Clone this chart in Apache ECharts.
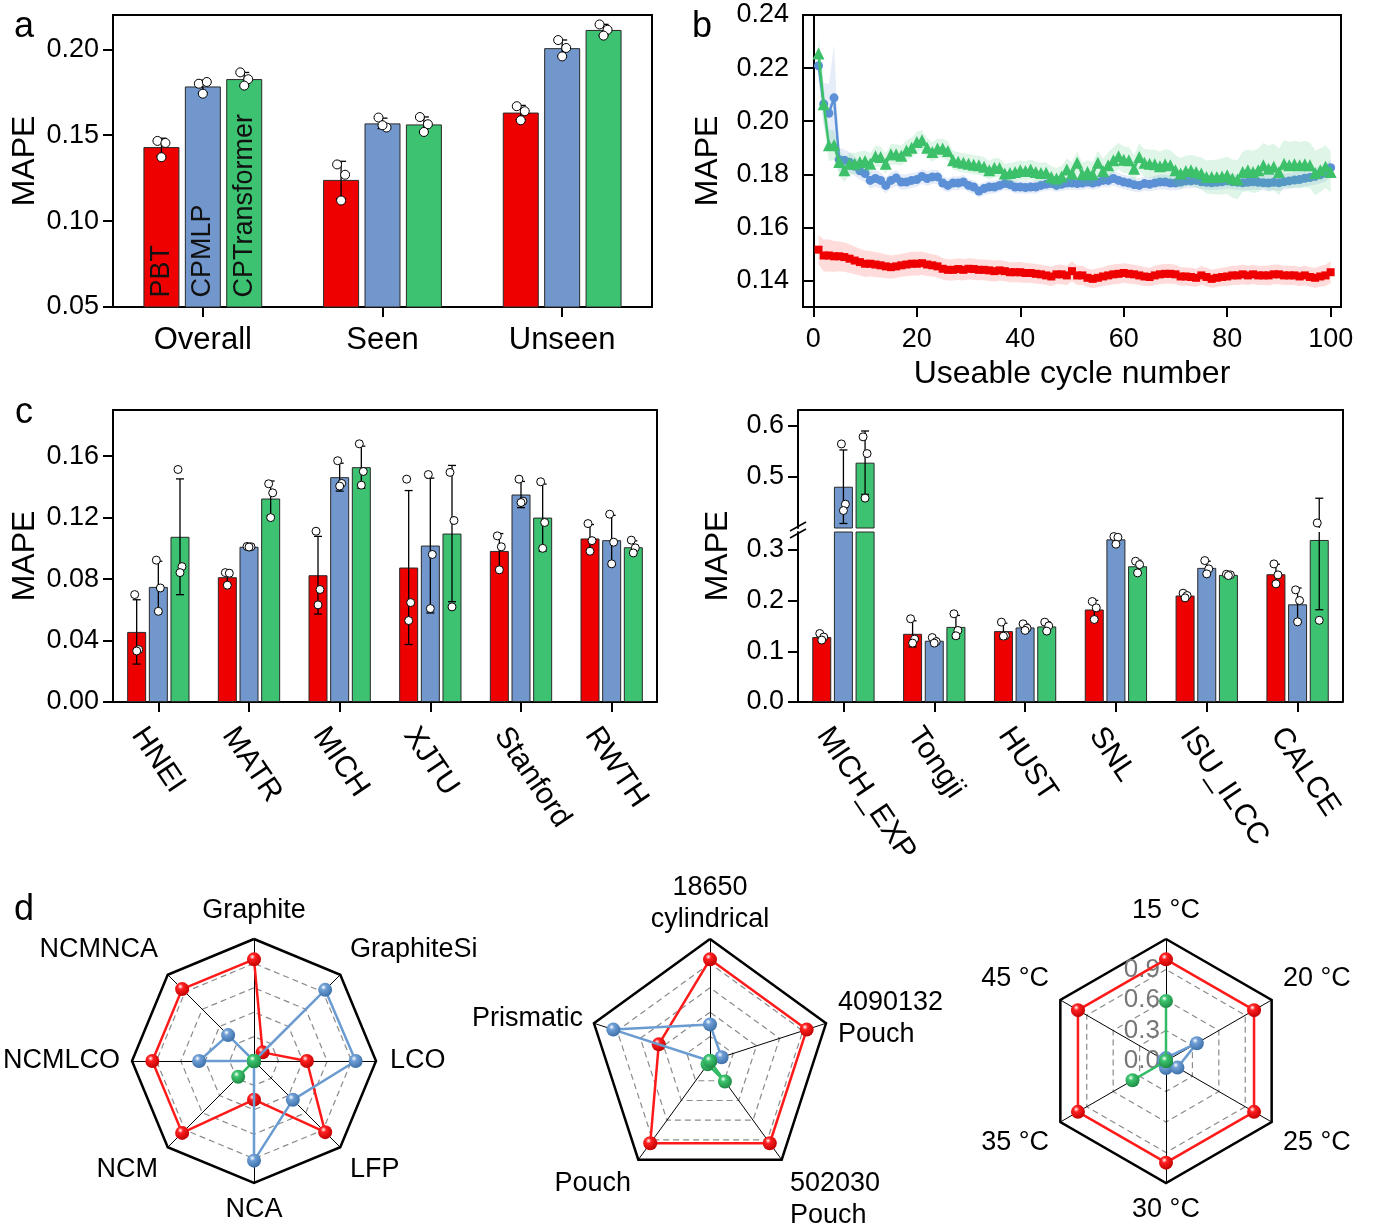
<!DOCTYPE html>
<html><head><meta charset="utf-8">
<script src="https://cdn.jsdelivr.net/npm/echarts@6.0.0/dist/echarts.min.js"></script>
<style>html,body{margin:0;padding:0;background:#fff}#c{width:1373px;height:1229px}</style>
</head><body><div id="c"></div>
<script>
const FONT = '"Liberation Sans", Arial, Helvetica, sans-serif';
// ---------- Panel a ----------
const A_CATS = ['Overall', 'Seen', 'Unseen'];
const MODEL_NAMES = ['PBT', 'CPMLP', 'CPTransformer'];
const A_PBT = [0.1431, 0.1240, 0.1632];
const A_CPMLP = [0.1784, 0.1569, 0.2007];
const A_CPT = [0.1827, 0.1563, 0.2113];
const A_PBT_PTS = [[0.1467,0.1455,0.1372],[0.1330,0.1270,0.1120],[0.1669,0.1640,0.1587]];
const A_CPMLP_PTS = [[0.1800,0.1810,0.1742],[0.1603,0.1545,0.1558],[0.2054,0.2008,0.1959]];
const A_CPT_PTS = [[0.1866,0.1826,0.1789],[0.1606,0.1564,0.1519],[0.2145,0.2114,0.2080]];
const A_TICKS = [0.05, 0.10, 0.15, 0.20];
// ---------- Panel b ----------
const B_PBT = [0.1516,0.1494,0.1494,0.1491,0.1491,0.1488,0.1482,0.1475,0.1469,0.1463,
0.1463,0.1460,0.1457,0.1453,0.1450,0.1453,0.1457,0.1460,0.1463,0.1463,
0.1465,0.1460,0.1457,0.1453,0.1444,0.1440,0.1440,0.1443,0.1440,0.1444,
0.1443,0.1440,0.1440,0.1438,0.1435,0.1438,0.1435,0.1431,0.1431,0.1431,
0.1428,0.1428,0.1425,0.1423,0.1419,0.1415,0.1423,0.1423,0.1419,0.1435,
0.1419,0.1419,0.1410,0.1406,0.1410,0.1415,0.1419,0.1423,0.1425,0.1428,
0.1425,0.1423,0.1419,0.1415,0.1413,0.1419,0.1423,0.1425,0.1425,0.1423,
0.1415,0.1415,0.1413,0.1410,0.1419,0.1413,0.1406,0.1410,0.1413,0.1415,
0.1419,0.1419,0.1423,0.1419,0.1423,0.1419,0.1419,0.1419,0.1423,0.1423,
0.1419,0.1419,0.1419,0.1415,0.1419,0.1413,0.1410,0.1415,0.1419,0.1431];
const B_CPMLP = [0.2209,0.2065,0.2030,0.2088,0.1855,0.1853,0.1845,0.1830,0.1813,0.1803,
0.1777,0.1784,0.1777,0.1758,0.1777,0.1786,0.1771,0.1771,0.1777,0.1780,
0.1792,0.1784,0.1790,0.1790,0.1767,0.1758,0.1767,0.1767,0.1771,0.1758,
0.1752,0.1737,0.1746,0.1752,0.1752,0.1758,0.1765,0.1761,0.1752,0.1752,
0.1750,0.1752,0.1752,0.1758,0.1762,0.1765,0.1758,0.1762,0.1767,0.1767,
0.1765,0.1767,0.1771,0.1767,0.1771,0.1777,0.1777,0.1784,0.1777,0.1771,
0.1767,0.1761,0.1758,0.1765,0.1762,0.1767,0.1771,0.1771,0.1767,0.1767,
0.1771,0.1775,0.1775,0.1777,0.1772,0.1770,0.1768,0.1770,0.1772,0.1775,
0.1772,0.1770,0.1768,0.1770,0.1772,0.1770,0.1768,0.1767,0.1770,0.1768,
0.1772,0.1775,0.1778,0.1780,0.1785,0.1788,0.1792,0.1798,0.1805,0.1825];
const B_CPT = [0.2255,0.2064,0.1909,0.1910,0.1846,0.1815,0.1840,0.1840,0.1846,0.1850,
0.1840,0.1868,0.1865,0.1840,0.1875,0.1875,0.1870,0.1890,0.1900,0.1922,
0.1928,0.1900,0.1884,0.1897,0.1897,0.1888,0.1853,0.1847,0.1843,0.1840,
0.1836,0.1834,0.1828,0.1815,0.1825,0.1824,0.1803,0.1805,0.1809,0.1815,
0.1812,0.1818,0.1809,0.1805,0.1806,0.1790,0.1784,0.1792,0.1818,0.1803,
0.1843,0.1800,0.1809,0.1800,0.1843,0.1812,0.1834,0.1853,0.1868,0.1855,
0.1853,0.1821,0.1865,0.1843,0.1840,0.1838,0.1830,0.1838,0.1834,0.1815,
0.1803,0.1812,0.1815,0.1809,0.1803,0.1790,0.1790,0.1790,0.1792,0.1796,
0.1784,0.1780,0.1809,0.1815,0.1809,0.1815,0.1834,0.1821,0.1828,0.1809,
0.1840,0.1834,0.1838,0.1834,0.1838,0.1834,0.1805,0.1815,0.1828,0.1809];
const B_PBT_SD = [0.0055,0.0060,0.0060,0.0058,0.0056,0.0055,0.0054,0.0052,0.0050,0.0050,
0.0048,0.0047,0.0046,0.0045,0.0044,0.0044,0.0043,0.0044,0.0045,0.0045,
0.0044,0.0043,0.0042,0.0042,0.0041,0.0040,0.0040,0.0041,0.0040,0.0040,
0.0040,0.0039,0.0039,0.0040,0.0040,0.0039,0.0038,0.0038,0.0038,0.0039,
0.0038,0.0037,0.0037,0.0036,0.0036,0.0037,0.0036,0.0037,0.0036,0.0038,
0.0036,0.0036,0.0035,0.0035,0.0036,0.0036,0.0037,0.0037,0.0038,0.0037,
0.0037,0.0036,0.0036,0.0036,0.0035,0.0036,0.0037,0.0037,0.0037,0.0036,
0.0035,0.0035,0.0035,0.0034,0.0035,0.0035,0.0034,0.0034,0.0035,0.0036,
0.0036,0.0036,0.0037,0.0036,0.0036,0.0036,0.0036,0.0037,0.0037,0.0037,
0.0036,0.0036,0.0036,0.0036,0.0037,0.0037,0.0038,0.0039,0.0040,0.0042];
const B_CPMLP_SD = [0.0060,0.0080,0.0110,0.0200,0.0045,0.0040,0.0038,0.0036,0.0034,0.0033,
0.0032,0.0032,0.0031,0.0030,0.0030,0.0030,0.0029,0.0029,0.0029,0.0028,
0.0028,0.0028,0.0027,0.0027,0.0027,0.0026,0.0026,0.0026,0.0026,0.0025,
0.0025,0.0025,0.0025,0.0025,0.0024,0.0024,0.0024,0.0024,0.0024,0.0024,
0.0024,0.0024,0.0024,0.0024,0.0024,0.0025,0.0025,0.0025,0.0025,0.0025,
0.0025,0.0025,0.0025,0.0026,0.0026,0.0026,0.0026,0.0027,0.0027,0.0027,
0.0027,0.0027,0.0027,0.0027,0.0027,0.0027,0.0028,0.0028,0.0028,0.0028,
0.0028,0.0028,0.0028,0.0028,0.0028,0.0028,0.0028,0.0028,0.0029,0.0029,
0.0029,0.0029,0.0029,0.0029,0.0029,0.0029,0.0029,0.0030,0.0030,0.0030,
0.0030,0.0030,0.0030,0.0030,0.0031,0.0031,0.0031,0.0032,0.0032,0.0033];
const B_CPT_SD = [0.0070,0.0070,0.0060,0.0055,0.0050,0.0045,0.0042,0.0040,0.0040,0.0040,
0.0040,0.0040,0.0039,0.0039,0.0039,0.0038,0.0038,0.0038,0.0038,0.0038,
0.0038,0.0037,0.0037,0.0037,0.0037,0.0037,0.0036,0.0036,0.0036,0.0036,
0.0036,0.0036,0.0036,0.0036,0.0036,0.0036,0.0037,0.0037,0.0037,0.0037,
0.0037,0.0038,0.0038,0.0038,0.0039,0.0039,0.0040,0.0040,0.0041,0.0042,
0.0043,0.0043,0.0044,0.0045,0.0046,0.0047,0.0048,0.0049,0.0050,0.0050,
0.0050,0.0051,0.0052,0.0052,0.0053,0.0054,0.0055,0.0056,0.0057,0.0058,
0.0058,0.0058,0.0058,0.0059,0.0060,0.0062,0.0064,0.0066,0.0068,0.0070,
0.0072,0.0074,0.0076,0.0078,0.0080,0.0082,0.0084,0.0086,0.0088,0.0088,
0.0088,0.0088,0.0088,0.0088,0.0088,0.0086,0.0084,0.0082,0.0080,0.0078];
const B_X_TICKS = [0, 20, 40, 60, 80, 100];
const B_Y_TICKS = [0.14, 0.16, 0.18, 0.20, 0.22, 0.24];
// ---------- Panel c ----------
const CL_CATS = ['HNEI', 'MATR', 'MICH', 'XJTU', 'Stanford', 'RWTH'];
const CL_PBT = [0.0456, 0.0812, 0.0825, 0.0875, 0.0983, 0.1064];
const CL_CPMLP = [0.0749, 0.1010, 0.1463, 0.1018, 0.1350, 0.1053];
const CL_CPT = [0.1075, 0.1324, 0.1528, 0.1096, 0.1200, 0.1007];
const CL_PBT_PTS = [[0.0699,0.0341,0.0332],[0.0842,0.0838,0.0760],[0.1111,0.0732,0.0632],[0.1450,0.0647,0.0530],[0.1081,0.1010,0.0860],[0.1161,0.1050,0.0981]];
const CL_CPMLP_PTS = [[0.0923,0.0742,0.0590],[0.1012,0.1010,0.1008],[0.1570,0.1422,0.1405],[0.1480,0.0960,0.0608],[0.1450,0.1307,0.1298],[0.1222,0.1040,0.0899]];
const CL_CPT_PTS = [[0.1513,0.0881,0.0842],[0.1420,0.1361,0.1200],[0.1680,0.1500,0.1411],[0.1494,0.1181,0.0619],[0.1433,0.1168,0.1000],[0.1053,0.1003,0.0970]];
const CL_TICKS = [0.00, 0.04, 0.08, 0.12, 0.16];
const CR_CATS = ['MICH_EXP', 'Tongji', 'HUST', 'SNL', 'ISU_ILCC', 'CALCE'];
const CR_PBT = [0.1280, 0.1344, 0.1397, 0.1823, 0.2098, 0.2518];
const CR_CPMLP = [0.4795, 0.1207, 0.1469, 0.3205, 0.2643, 0.1925];
const CR_CPT = [0.5270, 0.1480, 0.1489, 0.2675, 0.2505, 0.3193];
const CR_PBT_PTS = [[0.1350,0.1280,0.1220],[0.1640,0.1240,0.1160],[0.1574,0.1311,0.1298],[0.1980,0.1856,0.1626],[0.2144,0.2098,0.2052],[0.2721,0.2505,0.2328]];
const CR_CPMLP_PTS = [[0.5640,0.4450,0.4325],[0.1270,0.1190,0.1160],[0.1540,0.1456,0.1410],[0.3260,0.3246,0.3110],[0.2787,0.2623,0.2525],[0.2210,0.2000,0.1580]];
const CR_CPT_PTS = [[0.5780,0.5450,0.4570],[0.1738,0.1410,0.1305],[0.1574,0.1500,0.1397],[0.2774,0.2708,0.2544],[0.2518,0.2505,0.2492],[0.4080,0.3890,0.1610]];
const CR_LO_TICKS = [0.0, 0.1, 0.2, 0.3];
const CR_UP_TICKS = [0.5, 0.6];
const CR_LO_MAX = 0.335, CR_UP_MIN = 0.398, CR_UP_MAX = 0.631;
// ---------- Panel d ----------
const R1_AXES = ['Graphite', 'GraphiteSi', 'LCO', 'LFP', 'NCA', 'NCM', 'NCMLCO', 'NCMNCA'];
const R1_PBT = [1.0, 0.12, 0.52, 0.99, 0.38, 1.0, 1.0, 1.0];
const R1_CPMLP = [0.0, 0.99, 1.0, 0.54, 0.98, 0.0, 0.54, 0.36];
const R1_CPT = [0.0, 0.0, 0.0, 0.0, 0.0, 0.22, 0.0, 0.0];
const R2_AXES = ['18650\ncylindrical', '4090132\nPouch', '502030\nPouch', 'Pouch', 'Prismatic'];
const R2_PBT = [1.0, 1.0, 1.0, 1.0, 0.53];
const R2_CPMLP = [0.36, 0.12, 0.0, 0.0, 1.0];
const R2_CPT = [0.0, 0.0, 0.25, 0.04, 0.0];
const R3_AXES = ['15 °C', '20 °C', '25 °C', '30 °C', '35 °C', '45 °C'];
const R3_PBT = [1.0, 1.0, 1.0, 1.0, 1.0, 1.0];
const R3_CPMLP = [0.03, 0.35, 0.13, 0.07, 0.02, 0.02];
const R3_CPT = [0.59, 0.0, 0.0, 0.0, 0.38, 0.0];
const R_MAX = 1.2;

// ---------- styles / layout ----------
const RED = '#EE0000', BLUE = '#7197CC', GREEN = '#3DC271';
const BLUE_M = '#5B8FD6', GREEN_M = '#3CC06A';
const GA = {left:113, top:15, width:539, height:292};
const GB = {left:803, top:15, width:538, height:292};
const GCL = {left:113, top:410, width:544, height:292};
const GCU = {left:798, top:410, width:545, height:118};
const GCD = {left:798, top:532, width:545, height:170};
const TICK = {show:true, length:10, lineStyle:{color:'#000', width:2}};
const LINE = {show:true, lineStyle:{color:'#000', width:2}};
const TICK_FS = 27, NAME_FS = 32, CAT_FS = 31;

function sd(a){const m=a.reduce((s,v)=>s+v,0)/a.length;return Math.sqrt(a.reduce((s,v)=>s+(v-m)*(v-m),0)/(a.length-1));}
function ccw(a){return [a[0]].concat(a.slice(1).reverse());}

function valAxis(gi, min, max, ticks, dec, extra){
  return Object.assign({type:'value', gridIndex:gi, min, max, axisLine:LINE,
    axisTick:Object.assign({customValues:ticks}, TICK),
    axisLabel:{customValues:ticks, formatter:v=>v.toFixed(dec), fontSize:TICK_FS, color:'#000', fontFamily:FONT, margin:14},
    splitLine:{show:false}}, extra||{});
}
function catAxis(gi, cats, extra){
  return Object.assign({type:'category', gridIndex:gi, data:cats, axisLine:LINE,
    axisTick:Object.assign({alignWithLabel:true}, TICK),
    axisLabel:{fontSize:CAT_FS, color:'#000', fontFamily:FONT, margin:18}}, extra||{});
}
const yName = (gap) => ({name:'MAPE', nameLocation:'middle', nameGap:gap, nameTextStyle:{fontSize:NAME_FS, color:'#000', fontFamily:FONT}});

function barGroup(xi, yi, sets, bw, gap, cap, r, jit, filterFn){
  const out = [];
  const colors = [RED, BLUE, GREEN];
  sets.forEach((s, k) => {
    const off = (k - 1) * bw * (1 + gap);
    const barData = s.mean.map((v, i) => {
      const val = filterFn ? filterFn(v) : v;
      if (s.labels && i === 0) return {value: val, label:{show:true, formatter:MODEL_NAMES[k], position:'insideBottom',
        rotate:90, align:'left', verticalAlign:'middle', distance:10, fontSize:27, color:'#111', fontFamily:FONT}};
      return val;
    });
    out.push({type:'bar', xAxisIndex:xi, yAxisIndex:yi, data:barData, barWidth:bw, barGap:(gap*100)+'%',
      itemStyle:{color:colors[k], borderColor:'#2a2a2a', borderWidth:1}, z:2, silent:true, animation:false});
    out.push({type:'custom', xAxisIndex:xi, yAxisIndex:yi, clip:true, z:5, silent:true, animation:false,
      data: s.mean.map((m, i) => [i, m, sd(s.pts[i])]),
      renderItem(params, api){
        const i = api.value(0), m = api.value(1), e = api.value(2);
        const t = api.coord([i, m + e]), b = api.coord([i, m - e]);
        const x = t[0] + off;
        const st = {stroke:'#000', lineWidth:1.3};
        return {type:'group', children:[
          {type:'line', shape:{x1:x, y1:t[1], x2:x, y2:b[1]}, style:st},
          {type:'line', shape:{x1:x-cap, y1:t[1], x2:x+cap, y2:t[1]}, style:st},
          {type:'line', shape:{x1:x-cap, y1:b[1], x2:x+cap, y2:b[1]}, style:st}]};
      }});
    const dots = [];
    s.pts.forEach((arr, i) => arr.forEach((v, j) => dots.push([i, v, j])));
    out.push({type:'custom', xAxisIndex:xi, yAxisIndex:yi, clip:true, z:6, silent:true, animation:false, data:dots,
      renderItem(params, api){
        const p = api.coord([api.value(0), api.value(1)]);
        return {type:'circle', shape:{cx:p[0] + off + jit[api.value(2)], cy:p[1], r}, style:{fill:'#fff', stroke:'#000', lineWidth:1}};
      }});
  });
  return out;
}

const series = [];
series.push(...barGroup(0, 0, [
  {mean:A_PBT, pts:A_PBT_PTS, labels:true},
  {mean:A_CPMLP, pts:A_CPMLP_PTS, labels:true},
  {mean:A_CPT, pts:A_CPT_PTS, labels:true}], 36, 0.15, 5, 4.5, [-4, 4, 0]));
series.push(...barGroup(2, 2, [
  {mean:CL_PBT, pts:CL_PBT_PTS}, {mean:CL_CPMLP, pts:CL_CPMLP_PTS}, {mean:CL_CPT, pts:CL_CPT_PTS}], 19, 0.14, 4, 4, [-2, 2, 0]));
const CR_SETS = [{mean:CR_PBT, pts:CR_PBT_PTS}, {mean:CR_CPMLP, pts:CR_CPMLP_PTS}, {mean:CR_CPT, pts:CR_CPT_PTS}];
series.push(...barGroup(3, 3, CR_SETS, 19, 0.14, 4, 4, [-2, 2, 0], v => v > CR_UP_MIN ? v : '-'));
series.push(...barGroup(4, 4, CR_SETS, 19, 0.14, 4, 4, [-2, 2, 0]));

// panel b : std band polygon + marker line
const CYC = B_PBT.map((_, i) => i + 1);
function bandAndLine(mean, sdv, lineColor, bandColor, symbol, size, z){
  return [
    {type:'custom', xAxisIndex:1, yAxisIndex:1, clip:true, silent:true, animation:false, z:z,
      data: mean.map((m, i) => [CYC[i], m - sdv[i], m + sdv[i]]),
      renderItem(params, api){
        if (params.dataIndexInside !== 0) return null;
        const n = params.dataInsideLength, up = [], lo = [];
        for (let i = 0; i < n; i++) {
          up.push(api.coord([api.value(0, i), api.value(2, i)]));
          lo.push(api.coord([api.value(0, i), api.value(1, i)]));
        }
        return {type:'polygon', shape:{points: up.concat(lo.reverse())}, style:{fill:bandColor, stroke:null}};
      }},
    {type:'line', xAxisIndex:1, yAxisIndex:1, data:mean.map((m, i) => [CYC[i], m]), symbol, symbolSize:size, showAllSymbol:true,
      lineStyle:{color:lineColor, width:2.5}, itemStyle:{color:lineColor, borderWidth:0}, silent:true, animation:false, z:z + 1}
  ];
}
series.push(...bandAndLine(B_PBT, B_PBT_SD, RED, 'rgba(255,60,60,0.18)', 'rect', 8, 2));
series.push(...bandAndLine(B_CPMLP, B_CPMLP_SD, BLUE_M, 'rgba(100,145,215,0.16)', 'circle', 9, 4));
series.push(...bandAndLine(B_CPT, B_CPT_SD, GREEN_M, 'rgba(70,200,120,0.18)', 'triangle', 12, 6));

// radars
function ball(c, dark){return {type:'radial', x:0.38, y:0.32, r:0.7, colorStops:[{offset:0, color:'#ffffff'},{offset:0.28, color:c},{offset:1, color:dark}]};}
const R_CENTERS = [[254, 1061], [710, 1061], [1166, 1061]];
const R_SPLITS = [5, 5, 4];
const R_AXES = [R1_AXES, R2_AXES, R3_AXES];
const R_DATA = [[R1_PBT, R1_CPMLP, R1_CPT], [R2_PBT, R2_CPMLP, R2_CPT], [R3_PBT, R3_CPMLP, R3_CPT]];
const radars = [];
R_AXES.forEach((axes, ri) => {
  const ind = ccw(axes).map(n => ({name:n, min:0, max:R_MAX}));
  radars.push({center:R_CENTERS[ri], radius:122, startAngle:90, shape:'polygon', splitNumber:R_SPLITS[ri], indicator:ind,
    axisName:{show:false},
    splitLine:{lineStyle:{color:'#8a8a8a', type:[6,4], width:1.2}}, splitArea:{show:false},
    axisLine:{lineStyle:{color:'#000', width:1}}, axisTick:{show:false}, axisLabel:{show:false}});
  radars.push({center:R_CENTERS[ri], radius:122, startAngle:90, shape:'polygon', splitNumber:1, indicator:ind,
    axisName:{show:false}, splitLine:{lineStyle:{color:'#000', width:2.5}}, splitArea:{show:false},
    axisLine:{show:false}, axisTick:{show:false}, axisLabel:{show:false}});
  const cols = [['#FF1a1a', ball('#ff2020', '#c00000')], ['#6A9BD1', ball('#6f9fd6', '#3d6fa8')], ['#33BB66', ball('#3cc46e', '#1f8a45')]];
  R_DATA[ri].forEach((vals, k) => {
    series.push({type:'radar', radarIndex:ri * 2, symbol:'circle', symbolSize:14, silent:true, animation:false, z:3 + k,
      data:[{value:ccw(vals)}], lineStyle:{color:cols[k][0], width:2.5}, itemStyle:{color:cols[k][1]}});
  });
});

const graphic = [];
function txt(t, x, y, size, opts){
  return Object.assign({type:'text', x, y, z:20, silent:true,
    style:Object.assign({text:t, fontSize:size, fontFamily:FONT, font:size + 'px ' + FONT, fill:'#000',
      align:'center', verticalAlign:'middle', textAlign:'center', textVerticalAlign:'middle'}, (opts && opts.style) || {})},
    (opts && opts.el) || {});
}
graphic.push(txt('a', 24, 27, 36), txt('b', 702, 27, 36), txt('c', 24, 413, 36), txt('d', 24, 910, 36));
graphic.push(txt('MAPE', 718, 556, NAME_FS, {el:{rotation:Math.PI / 2}}));
const CR_R = GCD.left + GCD.width;
graphic.push({type:'polyline', z:20, silent:true, shape:{points:[[GCU.left, GCU.top], [CR_R, GCU.top], [CR_R, GCD.top + GCD.height]]},
  style:{stroke:'#000', lineWidth:2, fill:null}});
const BRK_Y = (GCU.top + GCU.height + GCD.top) / 2;
[-3.5, 3.5].forEach(d => graphic.push({type:'line', z:21, silent:true,
  shape:{x1:GCU.left - 8, y1:BRK_Y + d + 4.5, x2:GCU.left + 8, y2:BRK_Y + d - 4.5}, style:{stroke:'#000', lineWidth:1.5}}));
// radar axis names (offset from centre, alignment)
const R_POS = [
  [[0,-150,'center'],[96,-111,'left'],[136,0,'left'],[96,109,'left'],[0,149,'center'],[-96,109,'right'],[-134,0,'right'],[-96,-111,'right']],
  [[0,-157,'center'],[128,-42,'left'],[80,139,'left'],[-79,123,'right'],[-127,-42,'right']],
  [[0,-150,'center'],[117,-82,'left'],[117,82,'left'],[0,149,'center'],[-117,82,'right'],[-117,-82,'right']]
];
R_AXES.forEach((axes, ri) => axes.forEach((n, i) => {
  const p = R_POS[ri][i];
  graphic.push(txt(n, R_CENTERS[ri][0] + p[0], R_CENTERS[ri][1] + p[1], 27, {style:{align:p[2], textAlign:p[2], lineHeight:32}}));
}));

const option = {
  animation:false,
  grid:[
    Object.assign({show:true, borderColor:'#000', borderWidth:2, backgroundColor:'transparent'}, GA),
    Object.assign({show:true, borderColor:'#000', borderWidth:2, backgroundColor:'transparent'}, GB),
    Object.assign({show:true, borderColor:'#000', borderWidth:2, backgroundColor:'transparent'}, GCL),
    Object.assign({show:false}, GCU),
    Object.assign({show:false}, GCD)
  ],
  xAxis:[
    catAxis(0, A_CATS),
    {type:'value', gridIndex:1, min:-2, max:102, axisLine:LINE, axisTick:Object.assign({customValues:B_X_TICKS}, TICK),
      axisLabel:{customValues:B_X_TICKS, fontSize:TICK_FS, color:'#000', fontFamily:FONT, margin:19}, splitLine:{show:false},
      name:'Useable cycle number', nameLocation:'middle', nameGap:51, nameTextStyle:{fontSize:NAME_FS, color:'#000', fontFamily:FONT}},
    catAxis(2, CL_CATS, {axisLabel:{show:false}}),
    catAxis(3, CR_CATS, {show:false}),
    catAxis(4, CR_CATS, {axisLabel:{show:false}})
  ],
  yAxis:[
    valAxis(0, 0.05, 0.22, A_TICKS, 2, yName(72)),
    valAxis(1, 0.13, 0.24, B_Y_TICKS, 2, yName(79)),
    valAxis(2, 0, 0.19, CL_TICKS, 2, yName(72)),
    valAxis(3, CR_UP_MIN, CR_UP_MAX, CR_UP_TICKS, 1),
    valAxis(4, 0, CR_LO_MAX, CR_LO_TICKS, 1)
  ],
  radar:radars,
  polar:[{center:R_CENTERS[2], radius:122}],
  angleAxis:[{polarIndex:0, type:'value', min:0, max:360, startAngle:90, show:false}],
  radiusAxis:[{polarIndex:0, type:'value', min:0, max:R_MAX, interval:0.3, z:1,
    axisLine:{show:false}, axisTick:{show:false}, splitLine:{show:false},
    axisLabel:{color:'#777', fontSize:26, fontFamily:FONT, formatter:v => v.toFixed(1), showMaxLabel:false, margin:6}}],
  series,
  graphic
};
const chart = echarts.init(document.getElementById('c'), null, {width:1373, height:1229});
chart.setOption(option);

// rotated category labels for panel c: text top-left corner anchored just left of the tick
const ctx = document.createElement('canvas').getContext('2d');
const LBL_FS = 30, ANG = 56 * Math.PI / 180;
ctx.font = LBL_FS + 'px ' + FONT;
const extra = [];
[[2, CL_CATS, GCL], [4, CR_CATS, GCD]].forEach(([xi, cats, g]) => {
  cats.forEach(c => {
    const tx = chart.convertToPixel({xAxisIndex:xi}, c);
    const L = ctx.measureText(c).width;
    const x0 = tx - 8, y0 = g.top + g.height + 20;
    const cx = x0 + (L / 2) * Math.cos(ANG) - (LBL_FS / 2) * Math.sin(ANG);
    const cy = y0 + (L / 2) * Math.sin(ANG) + (LBL_FS / 2) * Math.cos(ANG);
    extra.push(txt(c, cx, cy, LBL_FS, {el:{rotation:-ANG}}));
  });
});
chart.setOption({graphic: graphic.concat(extra)});
</script></body></html>
